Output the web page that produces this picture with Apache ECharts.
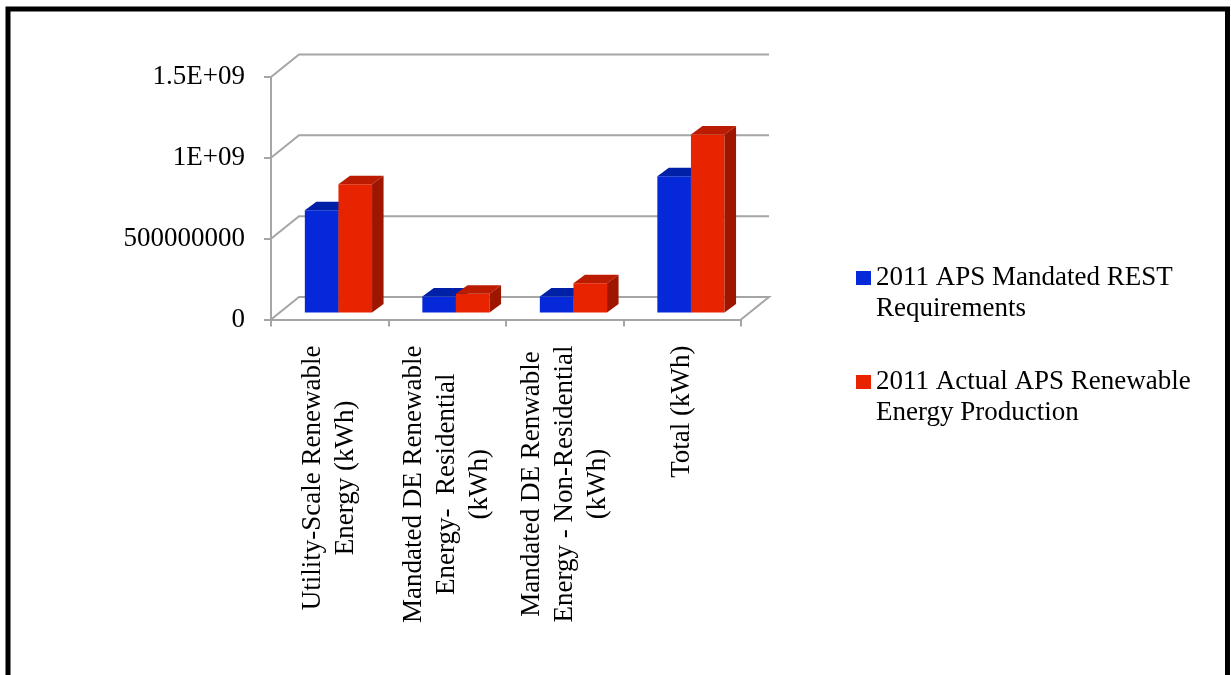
<!DOCTYPE html>
<html>
<head>
<meta charset="utf-8">
<script src="https://cdn.jsdelivr.net/npm/echarts@6/dist/echarts.min.js"></script>
<style>
  html, body { margin: 0; padding: 0; background: #fff; }
  #chart { width: 1231px; height: 675px; }
</style>
</head>
<body>
<div id="chart"></div>
<script>
let categories = [
  'Utility-Scale Renewable\nEnergy (kWh)',
  'Mandated DE Renewable\nEnergy-  Residential\n(kWh)',
  'Mandated DE Renwable\nEnergy - Non-Residential\n(kWh)',
  'Total (kWh)'
]
let seriesNames = [
  '2011 APS Mandated REST\nRequirements',
  '2011 Actual APS Renewable\nEnergy Production'
]
let mandated = [632000000, 99000000, 99000000, 843000000]
let actual = [793000000, 116000000, 181000000, 1101000000]
let yTicks = [0, 500000000, 1000000000, 1500000000]
let yTickLabels = ['0', '500000000', '1E+09', '1.5E+09']

// fake 3d: back wall offset and bar depth
let back = [28, -22.5]
let barShift = [8.7, -7]
let barDepth = [11.5, -8.5]
let gridColor = '#a5a5a5'
let faces = [
  { front: '#0528d8', top: '#0020a8', side: '#001a8c' },
  { front: '#e82400', top: '#bb1b00', side: '#9e1500' }
]

function wallItem(params, api) {
  let v = api.value(1)
  let p0 = api.coord([0, v])
  let p1 = api.coord([categories.length, v])
  let pts = [p0, [p0[0] + back[0], p0[1] + back[1]], [p1[0] + back[0], p1[1] + back[1]]]
  if (v === 0) pts.push(p1)
  return {
    type: 'polyline',
    shape: { points: pts },
    style: { stroke: gridColor, lineWidth: 2, fill: null }
  }
}

function barItem(k) {
  return function (params, api) {
    let i = api.value(0)
    let v = api.value(1)
    let base = api.coord([i + 0.5, 0])
    let top = api.coord([i + 0.5, v])
    let bw = api.size([1, 0])[0] * 0.286
    let x0 = (k === 0 ? base[0] - bw : base[0]) + barShift[0]
    let x1 = x0 + bw
    let yb = base[1] + barShift[1]
    let yt = top[1] + barShift[1]
    let c = faces[k]
    return {
      type: 'group',
      children: [
        { type: 'rect', shape: { x: x0, y: yt, width: bw, height: yb - yt }, style: { fill: c.front } },
        {
          type: 'polygon',
          shape: { points: [[x0, yt], [x0 + barDepth[0], yt + barDepth[1]], [x1 + barDepth[0], yt + barDepth[1]], [x1, yt]] },
          style: { fill: c.top }
        },
        {
          type: 'polygon',
          shape: { points: [[x1, yt], [x1 + barDepth[0], yt + barDepth[1]], [x1 + barDepth[0], yb + barDepth[1]], [x1, yb]] },
          style: { fill: c.side }
        }
      ]
    }
  }
}

let chart = echarts.init(document.getElementById('chart'), null, { renderer: 'canvas' })
chart.setOption({
  animation: false,
  color: [faces[0].front, faces[1].front],
  graphic: [
    {
      type: 'rect',
      shape: { x: 8, y: 9, width: 1219.5, height: 700 },
      style: { fill: null, stroke: '#000', lineWidth: 5 }
    }
  ],
  grid: {
    left: 271,
    top: 77,
    width: 470,
    height: 242.5
  },
  legend: {
    orient: 'vertical',
    left: 856,
    top: 231.5,
    padding: 0,
    itemGap: 11,
    itemWidth: 15,
    itemHeight: 14,
    icon: 'rect',
    data: seriesNames,
    // blank first line so the icon lines up with the first text line
    formatter: function (name) {
      return ' \n' + name
    },
    textStyle: {
      fontFamily: 'Liberation Serif',
      fontSize: 27,
      lineHeight: 31,
      color: '#000'
    }
  },
  xAxis: [
    {
      type: 'category',
      data: categories,
      axisLine: { lineStyle: { color: gridColor, width: 2 } },
      axisTick: { show: true, interval: 0, length: 7, lineStyle: { color: gridColor, width: 2 } },
      axisLabel: {
        interval: 0,
        rotate: 90,
        margin: 26,
        formatter: function (val) {
          return val.split('\n').map(function (s) { return '{c|' + s + '}' }).join('\n')
        },
        rich: {
          c: {
            align: 'center',
            fontFamily: 'Liberation Serif',
            fontSize: 27,
            lineHeight: 33,
            color: '#000'
          }
        }
      },
      splitLine: { show: false }
    },
    {
      type: 'value',
      min: 0,
      max: categories.length,
      show: false
    }
  ],
  yAxis: {
    type: 'value',
    min: 0,
    max: 1500000000,
    interval: 500000000,
    axisLine: { show: true, lineStyle: { color: gridColor, width: 2 } },
    axisTick: { show: true, length: 7, lineStyle: { color: gridColor, width: 2 } },
    splitLine: { show: false },
    axisLabel: {
      margin: 26,
      padding: [7, 0, 0, 0],
      fontFamily: 'Liberation Serif',
      fontSize: 27,
      color: '#000',
      formatter: function (v) {
        let idx = yTicks.indexOf(v)
        return idx >= 0 ? yTickLabels[idx] : ''
      }
    }
  },
  series: [
    {
      name: 'wall',
      type: 'custom',
      xAxisIndex: 1,
      silent: true,
      renderItem: wallItem,
      data: yTicks.map(function (v) { return [0, v] }),
      z: 1
    },
    {
      name: seriesNames[0],
      type: 'custom',
      xAxisIndex: 1,
      renderItem: barItem(0),
      itemStyle: { color: faces[0].front },
      data: mandated.map(function (v, i) { return [i, v] }),
      z: 2
    },
    {
      name: seriesNames[1],
      type: 'custom',
      xAxisIndex: 1,
      renderItem: barItem(1),
      itemStyle: { color: faces[1].front },
      data: actual.map(function (v, i) { return [i, v] }),
      z: 3
    }
  ]
})
</script>
</body>
</html>
